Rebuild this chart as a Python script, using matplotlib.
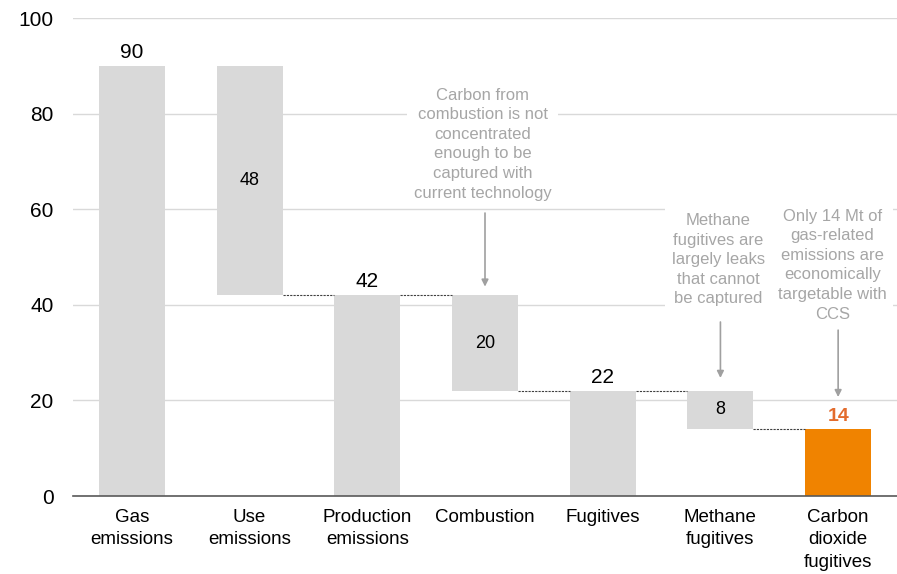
import matplotlib
matplotlib.use("Agg")
import matplotlib.pyplot as plt

plt.rcParams["font.family"] = ["Liberation Sans", "DejaVu Sans"]

# waterfall data (Mt CO2)
categories = [
    "Gas\nemissions",
    "Use\nemissions",
    "Production\nemissions",
    "Combustion",
    "Fugitives",
    "Methane\nfugitives",
    "Carbon\ndioxide\nfugitives",
]
values = [90, 48, 42, 20, 22, 8, 14]
is_total = [True, False, True, False, True, False, True]
yticks = [0, 20, 40, 60, 80, 100]

# annotation notes: bar index, text, text x, text y, arrow start, arrow end
note_idx = [3, 5, 6]
note_text = [
    "Carbon from\ncombustion is not\nconcentrated\nenough to be\ncaptured with\ncurrent technology",
    "Methane\nfugitives are\nlargely leaks\nthat cannot\nbe captured",
    "Only 14 Mt of\ngas-related\nemissions are\neconomically\ntargetable with\nCCS",
]
note_x = [2.98, 4.98, 5.95]
note_y = [73.6, 49.4, 48.3]
arrow_from = [59.2, 36.4, 34.7]
arrow_to = [43.8, 24.7, 20.7]

GREY_BAR = "#D9D9D9"
ORANGE = "#F08300"
LABEL_ORANGE = "#E36C2D"
NOTE_GREY = "#A6A6A6"

# bottoms: totals start at 0, steps hang from the previous total
bottoms = []
prev_total = 0
for v, tot in zip(values, is_total):
    if tot:
        bottoms.append(0)
        prev_total = v
    else:
        bottoms.append(prev_total - v)
tops = [b + v for b, v in zip(bottoms, values)]

fig = plt.figure(figsize=(8.97, 5.74), dpi=100)
ax = fig.add_axes([73 / 897, 78 / 574, 824 / 897, 478 / 574])

x = list(range(len(categories)))
colors = [GREY_BAR] * (len(values) - 1) + [ORANGE]
width = 0.56
ax.bar(x, values, bottom=bottoms, width=width, color=colors, zorder=2)

# dotted connectors
for i in range(1, len(values) - 1):
    level = bottoms[i] if not is_total[i] else tops[i]
    ax.plot([i + width / 2, i + 1 - width / 2], [level, level],
            color="#404040", lw=0.8, linestyle=(0, (2, 1)), zorder=3)

# value labels
for i, (v, b, tot) in enumerate(zip(values, bottoms, is_total)):
    if tot:
        last = i == len(values) - 1
        ax.text(i, v + 0.8, str(v), ha="center", va="bottom",
                fontsize=15 if not last else 14,
                color=LABEL_ORANGE if last else "black",
                fontweight="bold" if last else "normal", zorder=4)
    else:
        ax.text(i, b + v / 2, str(v), ha="center", va="center",
                fontsize=13, color="black", zorder=4)

# notes with arrows
for i, txt, tx, ty, a0, a1 in zip(note_idx, note_text, note_x, note_y,
                                   arrow_from, arrow_to):
    ax.text(tx, ty, txt, ha="center", va="center", fontsize=12,
            color=NOTE_GREY, linespacing=1.38, zorder=3,
            bbox=dict(boxstyle="square,pad=0.4", fc="white", ec="none"))
    ax.annotate("", xy=(i, a1), xytext=(i, a0),
                arrowprops=dict(arrowstyle="-|>", color="#A0A0A0", lw=1.2,
                                mutation_scale=10, shrinkA=0, shrinkB=0),
                zorder=3)

ax.set_xlim(-0.5, len(categories) - 0.5)
ax.set_ylim(0, 100)
ax.set_yticks(yticks)
ax.set_xticks(x)
ax.set_xticklabels(categories, fontsize=13.5, linespacing=1.45)
ax.tick_params(axis="y", length=0, pad=14, labelsize=15)
ax.tick_params(axis="x", length=0, pad=9)
ax.yaxis.grid(True, color="#D9D9D9", lw=1, zorder=0)
ax.set_axisbelow(True)
for side in ["left", "right", "top"]:
    ax.spines[side].set_visible(False)
ax.spines["bottom"].set_color("#595959")
ax.spines["bottom"].set_linewidth(1.2)
ax.spines["bottom"].set_zorder(5)

fig.savefig("out.png", dpi=100)
plt.close(fig)
